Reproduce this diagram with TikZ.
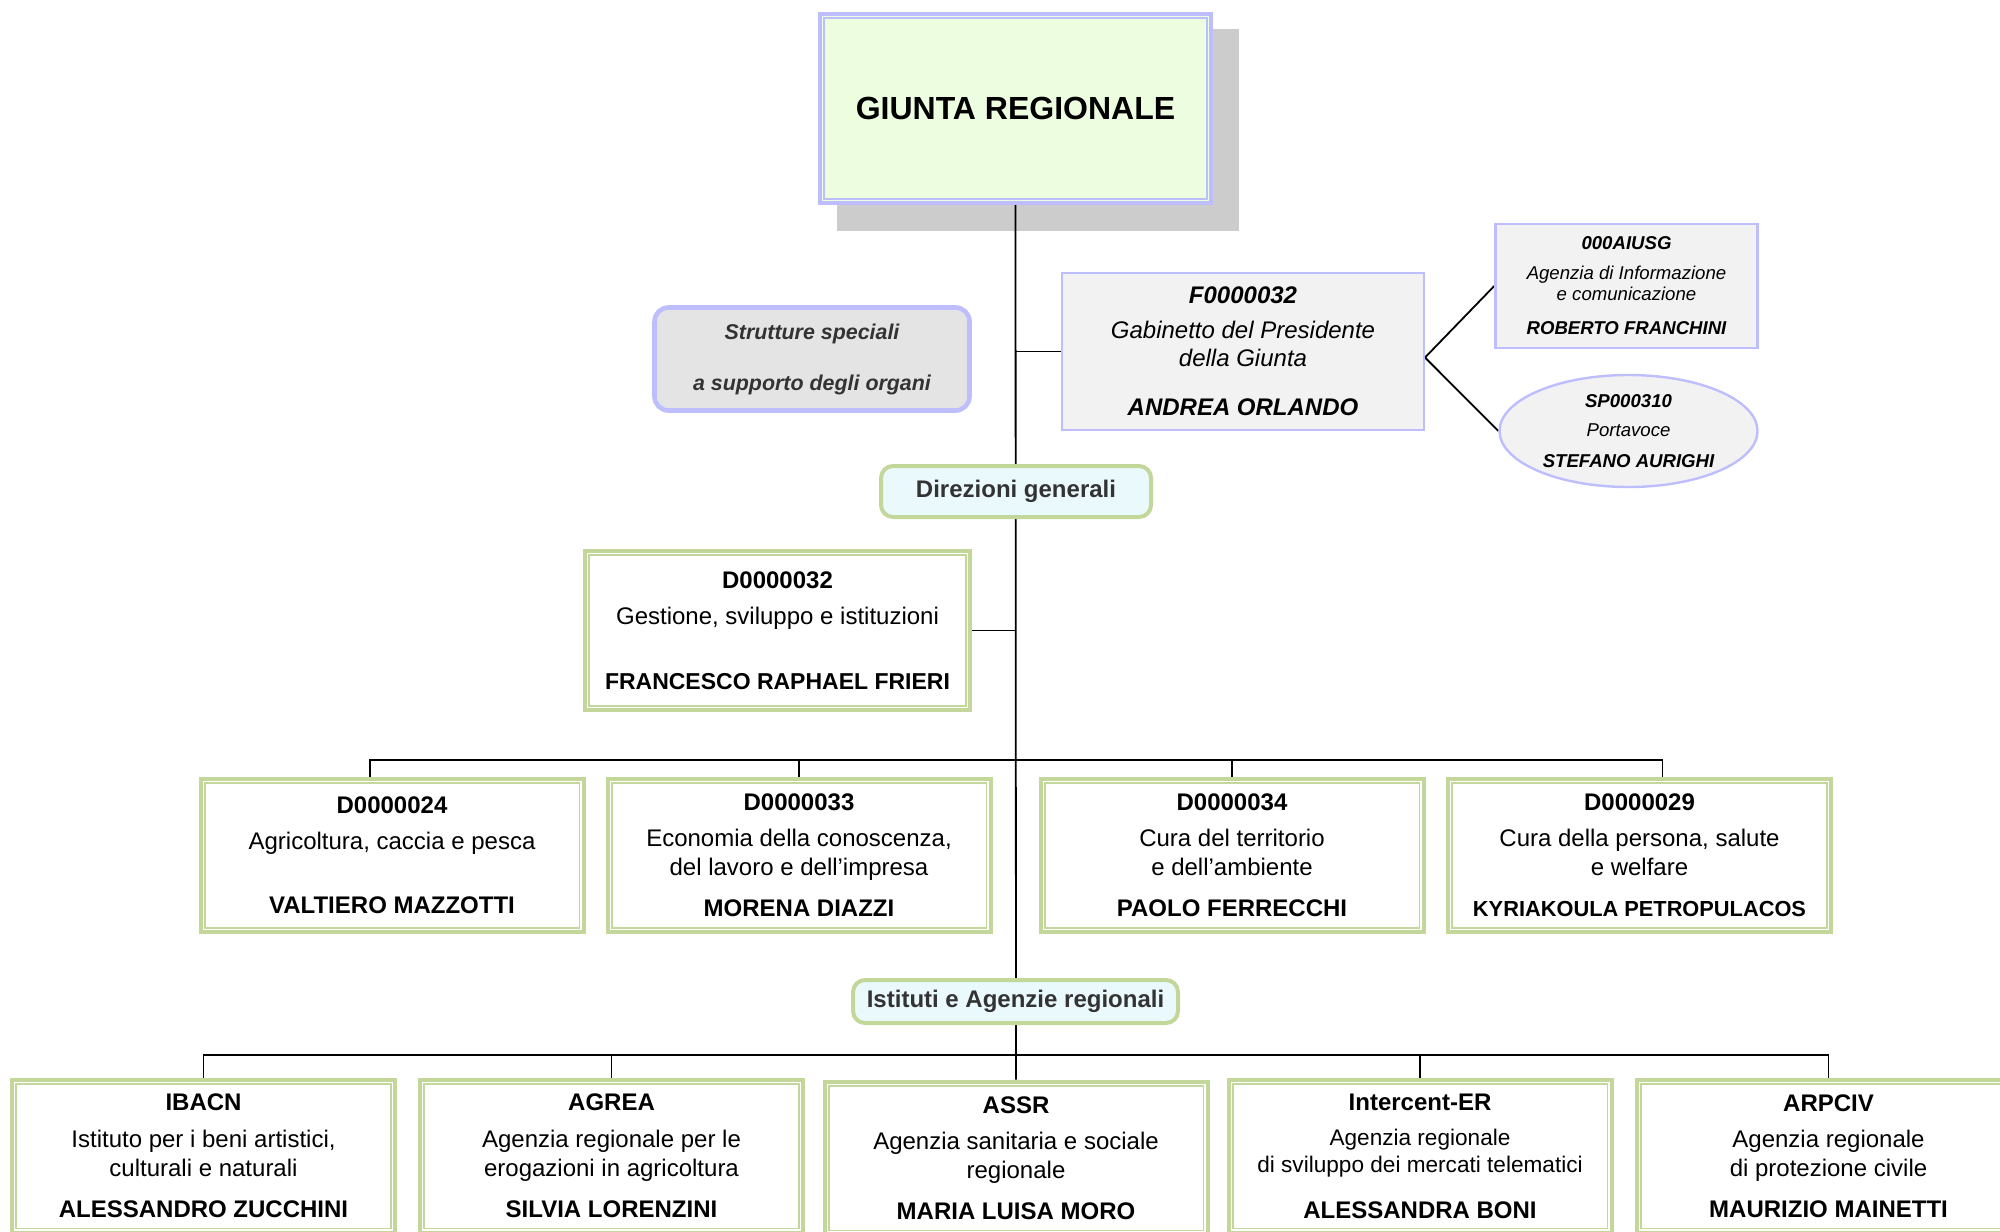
\documentclass[tikz,border=0pt]{standalone}
\usepackage{fontspec}
\setmainfont{Liberation Sans}
\usepackage{xcolor}
\usetikzlibrary{positioning, backgrounds, shapes.geometric}

\definecolor{lilla}{RGB}{190,190,255}
\definecolor{verdebordo}{RGB}{196,215,155}
\definecolor{giuntafill}{RGB}{237,253,223}
\definecolor{ombra}{RGB}{204,204,204}
\definecolor{grigiochiaro}{RGB}{242,242,242}
\definecolor{grigiomedio}{RGB}{228,228,228}
\definecolor{azzurrino}{RGB}{233,249,252}
\definecolor{testoscuro}{RGB}{51,51,51}

\newcommand{\fntbig}{\fontsize{16}{19}\selectfont}
\newcommand{\fntbox}{\fontsize{12}{14.5}\selectfont}
\newcommand{\fntmid}{\fontsize{10.7}{13}\selectfont}
\newcommand{\fntsmall}{\fontsize{9.3}{10.5}\selectfont}

\begin{document}
\begin{tikzpicture}[x=0.5pt,y=-0.5pt,
        conn/.style={line width=0.9pt},
        giuntabox/.style={draw=lilla, line width=2pt, fill=giuntafill,
            minimum width=195.5pt, minimum height=94.5pt, font=\fntbig\bfseries},
        dirbox/.style={draw=verdebordo, line width=2pt, fill=white, minimum width=191.5pt,
            minimum height=76.5pt, inner sep=0pt, align=center, font=\fntbox},
        innerline/.style={line width=0.8pt},
        headbox/.style={draw=verdebordo, line width=2pt, rounded corners=6pt, fill=azzurrino,
            text=testoscuro, font=\fntbox\bfseries, inner sep=0pt},
        staffbox/.style={draw=lilla, line width=1pt, fill=grigiochiaro, inner sep=0pt, align=center}]
    \path[use as bounding box] (0,0) rectangle (2000,1231);
    \clip (0,0) rectangle (2000,1231);

    % vertice
    \node[giuntabox] (giunta) at (1015.5,108.5) {GIUNTA REGIONALE};

    % strutture speciali
    \node[draw=lilla, line width=2.3pt, rounded corners=7pt, fill=grigiomedio, text=testoscuro,
        minimum width=157.5pt, minimum height=51.5pt, align=center, font=\fntmid\bfseries\itshape]
        (strutture) at (812,359) {Strutture speciali\\[12.5pt] a supporto degli organi};
    \node[staffbox, minimum width=181pt, minimum height=78.5pt, font=\fntbox\itshape] (gabinetto) at (1243,351.5)
        {{\bfseries F0000032}\\[3pt] Gabinetto del Presidente\\[-0.5pt] della Giunta\\[10pt] {\bfseries ANDREA ORLANDO}};
    \node[staffbox, line width=1.3pt, minimum width=131pt, minimum height=62pt, font=\fntsmall\itshape] (aiusg) at (1626.5,286)
        {{\bfseries 000AIUSG}\\[4.5pt] Agenzia di Informazione\\ e comunicazione\\[6.5pt] {\bfseries ROBERTO FRANCHINI}};
    \node[staffbox, ellipse, line width=1.2pt, minimum width=129pt, minimum height=56pt, font=\fntsmall\itshape] (portavoce) at (1628.5,431)
        {{\bfseries SP000310}\\[4pt] Portavoce\\[5pt] {\bfseries STEFANO AURIGHI}};

    % direzioni generali
    \node[headbox, minimum width=135pt, minimum height=25.5pt] (direzioni) at (1016,491.5) {Direzioni generali};
    \node[dirbox, minimum width=192.5pt, minimum height=79.5pt] (d32) at (777.5,630.5)
        {{\bfseries D0000032}\\[3.5pt] Gestione, sviluppo e istituzioni\\[18pt] {\fontsize{11.5}{14.5}\selectfont\bfseries FRANCESCO RAPHAEL FRIERI}};
    \node[dirbox] (d24) at (392,855.5)
        {{\bfseries D0000024}\\[3.5pt] Agricoltura, caccia e pesca\\[17.5pt] {\bfseries VALTIERO MAZZOTTI}};
    \node[dirbox] (d33) at (799,855.5)
        {{\bfseries D0000033}\\[3.5pt] Economia della conoscenza,\\ del lavoro e dell’impresa\\[6pt] {\bfseries MORENA DIAZZI}};
    \node[dirbox] (d34) at (1232,855.5)
        {{\bfseries D0000034}\\[3.5pt] Cura del territorio\\ e dell’ambiente\\[6pt] {\bfseries PAOLO FERRECCHI}};
    \node[dirbox] (d29) at (1639.5,855.5)
        {{\bfseries D0000029}\\[3.5pt] Cura della persona, salute\\ e welfare\\[6pt] {\fontsize{10.9}{14.5}\selectfont\bfseries KYRIAKOULA PETROPULACOS}};

    % istituti e agenzie
    \node[headbox, minimum width=162.5pt, minimum height=21.5pt] (istituti) at (1015.5,1001.5) {Istituti e Agenzie regionali};
    \begin{scope}[every node/.append style={minimum height=78pt}]
    \node[dirbox] (ibacn) at (203.5,1156)
        {{\bfseries IBACN}\\[4pt] Istituto per i beni artistici,\\ culturali e naturali\\[6pt] {\bfseries ALESSANDRO ZUCCHINI}};
    \node[dirbox] (agrea) at (611.5,1156)
        {{\bfseries AGREA}\\[4pt] Agenzia regionale per le\\ erogazioni in agricoltura\\[6pt] {\bfseries SILVIA LORENZINI}};
    \node[dirbox] (assr) at (1016,1158)
        {{\bfseries ASSR}\\[3.5pt] Agenzia sanitaria e sociale\\ regionale\\[6pt] {\bfseries MARIA LUISA MORO}};
    \node[dirbox] (intercent) at (1420,1156)
        {{\bfseries Intercent-ER}\\[3pt] {\fontsize{11.3}{13.5}\selectfont Agenzia regionale}\\[-1pt] {\fontsize{11.3}{13.5}\selectfont di sviluppo dei mercati telematici}\\[8.5pt] {\bfseries ALESSANDRA BONI}};
    \node[dirbox] (arpciv) at (1828.5,1156)
        {{\bfseries ARPCIV}\\[3.5pt] Agenzia regionale\\ di protezione civile\\[6pt] {\bfseries MAURIZIO MAINETTI}};
    \end{scope}

    % filetto interno dei riquadri
    \draw[innerline, lilla] ([shift={(3.1pt,3.1pt)}]giunta.south west) rectangle ([shift={(-3.1pt,-3.1pt)}]giunta.north east);
    \foreach \n in {d32,d24,d33,d34,d29,ibacn,agrea,assr,intercent,arpciv}
        \draw[innerline, verdebordo] ([shift={(3.1pt,3.1pt)}]\n.south west) rectangle ([shift={(-3.1pt,-3.1pt)}]\n.north east);

    \coordinate (bus1) at (1016,760);
    \coordinate (bus2) at (1016,1055);

    \begin{scope}[on background layer]
        \fill[ombra] ([shift={(19,17)}]giunta.north west) rectangle ([shift={(26,26)}]giunta.south east);
        \draw[conn] (giunta.south) -- (assr.north);
        \draw[conn] (gabinetto.west) -- (gabinetto.west -| giunta.south);
        \draw[conn] (aiusg.west) -- ([yshift=-3pt]gabinetto.east) -- (portavoce.west);
        \draw[conn] (d32.east) -- (d32.east -| giunta.south);
        \draw[conn] ([xshift=-11pt]d24.north) |- (bus1) -| ([xshift=11.5pt]d29.north);
        \draw[conn] (d33.north) -- (d33.north |- bus1);
        \draw[conn] (d34.north) -- (d34.north |- bus1);
        \draw[conn] (ibacn.north) |- (bus2) -| (arpciv.north);
        \draw[conn] (agrea.north) -- (agrea.north |- bus2);
        \draw[conn] (intercent.north) -- (intercent.north |- bus2);
    \end{scope}
\end{tikzpicture}
\end{document}
